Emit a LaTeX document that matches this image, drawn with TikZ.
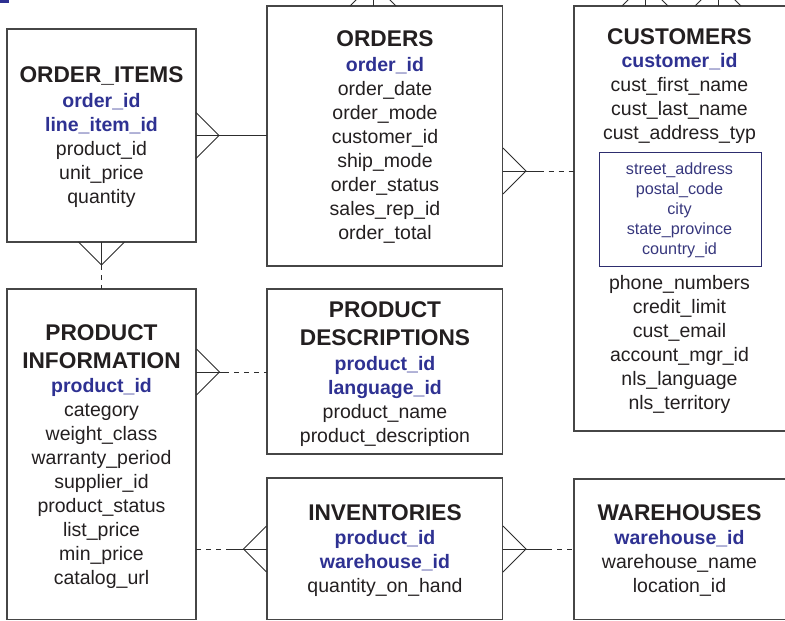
\documentclass[tikz,border=0pt]{standalone}
\usepackage{fontspec}
\setmainfont{Liberation Sans}
\usetikzlibrary{calc}
\definecolor{ink}{RGB}{35,31,32}
\definecolor{keyblue}{RGB}{46,49,146}
\definecolor{subblue}{RGB}{55,55,125}
\definecolor{subframe}{RGB}{45,45,110}
\definecolor{frame}{RGB}{70,70,70}
\definecolor{wire}{RGB}{45,45,45}
\tikzset{
  ent/.style={draw=frame, line width=1.3pt, inner sep=0pt, outer sep=0pt, anchor=north west},
  subbox/.style={draw=subframe, line width=1pt, inner sep=0pt, outer sep=0pt, anchor=north west},
  ttl/.style={anchor=base, inner sep=0pt, text=ink, font=\fontsize{22.7}{26}\selectfont\bfseries},
  key/.style={anchor=base, inner sep=0pt, text=keyblue, font=\fontsize{19.5}{24}\selectfont\bfseries},
  att/.style={anchor=base, inner sep=0pt, text=ink, font=\fontsize{19.5}{24}\selectfont},
  sub/.style={anchor=base, inner sep=0pt, text=subblue, font=\fontsize{16.2}{20}\selectfont},
  rel/.style={draw=wire, line width=0.9pt},
  opt/.style={rel, dash pattern=on 5pt off 5pt},
}
\begin{document}
\begin{tikzpicture}[x=1pt, y=-1pt]
\useasboundingbox (0,0) rectangle (785,621);
\clip (0,0) rectangle (785,621);
\fill[keyblue] (0,0) rectangle (9,2.5);

% entity boxes
\node[ent, minimum width=189pt, minimum height=213pt] (oi) at (7,29) {};
\node[ent, minimum width=235.5pt, minimum height=260pt] (ord) at (267,6) {};
\node[ent, minimum width=230pt, minimum height=425pt] (cus) at (574,6) {};
\node[ent, minimum width=189pt, minimum height=330.5pt] (pi) at (7,289) {};
\node[ent, minimum width=235.5pt, minimum height=165pt] (pd) at (267,289) {};
\node[ent, minimum width=235.5pt, minimum height=141.5pt] (inv) at (267,478) {};
\node[ent, minimum width=230pt, minimum height=140.5pt] (wh) at (574,479) {};
\node[subbox, minimum width=162pt, minimum height=114pt] (addr) at (599,152) {};

% texts
\foreach \txt/\sty/\yy [count=\i] in {ORDER\_ITEMS/ttl/82.5, order\_id/key/107, line\_item\_id/key/131,
  product\_id/att/155, unit\_price/att/179, quantity/att/203}
  \node[\sty] (oit\i) at (101.5,\yy) {\txt};

\foreach \txt/\sty/\yy [count=\i] in {ORDERS/ttl/46.5, order\_id/key/71, order\_date/att/95,
  order\_mode/att/119, customer\_id/att/143, ship\_mode/att/167, order\_status/att/191,
  sales\_rep\_id/att/215, order\_total/att/239}
  \node[\sty] (ordt\i) at (385,\yy) {\txt};

\foreach \txt/\sty/\yy [count=\i] in {CUSTOMERS/ttl/44, customer\_id/key/67.5,
  cust\_first\_name/att/91.5, cust\_last\_name/att/115.5, cust\_address\_typ/att/139.5,
  street\_address/sub/174, postal\_code/sub/194, city/sub/214, state\_province/sub/234,
  country\_id/sub/254, phone\_numbers/att/289, credit\_limit/att/313, cust\_email/att/337,
  account\_mgr\_id/att/361, nls\_language/att/385, nls\_territory/att/409}
  \node[\sty] (cust\i) at (679.5,\yy) {\txt};

\foreach \txt/\sty/\yy [count=\i] in {PRODUCT/ttl/340, INFORMATION/ttl/368, product\_id/key/392.5,
  category/att/416.5, weight\_class/att/440.5, warranty\_period/att/464.5, supplier\_id/att/488.5,
  product\_status/att/512.5, list\_price/att/536.5, min\_price/att/560.5, catalog\_url/att/584.5}
  \node[\sty] (pit\i) at (101.5,\yy) {\txt};

\foreach \txt/\sty/\yy [count=\i] in {PRODUCT/ttl/317.5, DESCRIPTIONS/ttl/345.5, product\_id/key/370,
  language\_id/key/394, product\_name/att/418, product\_description/att/442}
  \node[\sty] (pdt\i) at (385,\yy) {\txt};

\foreach \txt/\sty/\yy [count=\i] in {INVENTORIES/ttl/520, product\_id/key/544.5,
  warehouse\_id/key/568.5, quantity\_on\_hand/att/592.5}
  \node[\sty] (invt\i) at (385,\yy) {\txt};

\foreach \txt/\sty/\yy [count=\i] in {WAREHOUSES/ttl/520, warehouse\_id/key/544.5,
  warehouse\_name/att/568.5, location\_id/att/592.5}
  \node[\sty] (wht\i) at (679.5,\yy) {\txt};

% ORDER_ITEMS >-- ORDERS
\coordinate (v1) at ($(oi.east)+(23,0)$);
\draw[rel] (oi.east) -- (ord.west |- oi.east);
\draw[rel] ($(v1)+(-23,-23)$) -- (v1) -- ($(v1)+(-23,23)$);

% ORDER_ITEMS >-- PRODUCT INFORMATION
\coordinate (v2) at ($(oi.south)+(0,23)$);
\draw[rel] (oi.south) -- (v2);
\draw[opt] (v2) -- (pi.north);
\draw[rel] ($(v2)+(-23,-23)$) -- (v2) -- ($(v2)+(23,-23)$);

% ORDERS >-- CUSTOMERS
\coordinate (v3) at (526,171);
\coordinate (m3) at (538.5,171);
\draw[rel] (ord.east |- v3) -- (m3);
\draw[opt] (m3) -- (cus.west |- v3);
\draw[rel] ($(v3)+(-23,-23)$) -- (v3) -- ($(v3)+(-23,23)$);

% PRODUCT INFORMATION >-- PRODUCT DESCRIPTIONS
\coordinate (v4) at (219.5,372);
\coordinate (m4) at (224,372);
\draw[rel] (pi.east |- v4) -- (m4);
\draw[opt] (m4) -- (pd.west |- v4);
\draw[rel] ($(v4)+(-23,-23)$) -- (v4) -- ($(v4)+(-23,23)$);

% PRODUCT INFORMATION --< INVENTORIES
\coordinate (v5) at (243.5,549);
\coordinate (m5) at (229,549);
\draw[opt] (pi.east |- v5) -- (m5);
\draw[rel] (m5) -- (inv.west |- v5);
\draw[rel] ($(v5)+(23,-23)$) -- (v5) -- ($(v5)+(23,23)$);

% INVENTORIES >-- WAREHOUSES
\coordinate (v6) at (526,549);
\coordinate (m6) at (547,549);
\draw[rel] (inv.east |- v6) -- (m6);
\draw[opt] (m6) -- (wh.west |- v6);
\draw[rel] ($(v6)+(-23,-23)$) -- (v6) -- ($(v6)+(-23,23)$);

% relationships leaving the top edge
\coordinate (v7) at (373,-17);
\coordinate (t7) at (373,-40);
\draw[rel] (ord.north -| v7) -- (t7);
\draw[rel] ($(v7)+(-23,23)$) -- (v7) -- ($(v7)+(23,23)$);

\coordinate (v8) at (645,-17);
\coordinate (t8) at (645,-40);
\draw[rel] (cus.north -| v8) -- (t8);
\draw[rel] ($(v8)+(-23,23)$) -- (v8) -- ($(v8)+(23,23)$);

\coordinate (v9) at (718,-17);
\coordinate (t9) at (718,-40);
\draw[rel] (cus.north -| v9) -- (t9);
\draw[rel] ($(v9)+(-23,23)$) -- (v9) -- ($(v9)+(23,23)$);
\end{tikzpicture}
\end{document}
